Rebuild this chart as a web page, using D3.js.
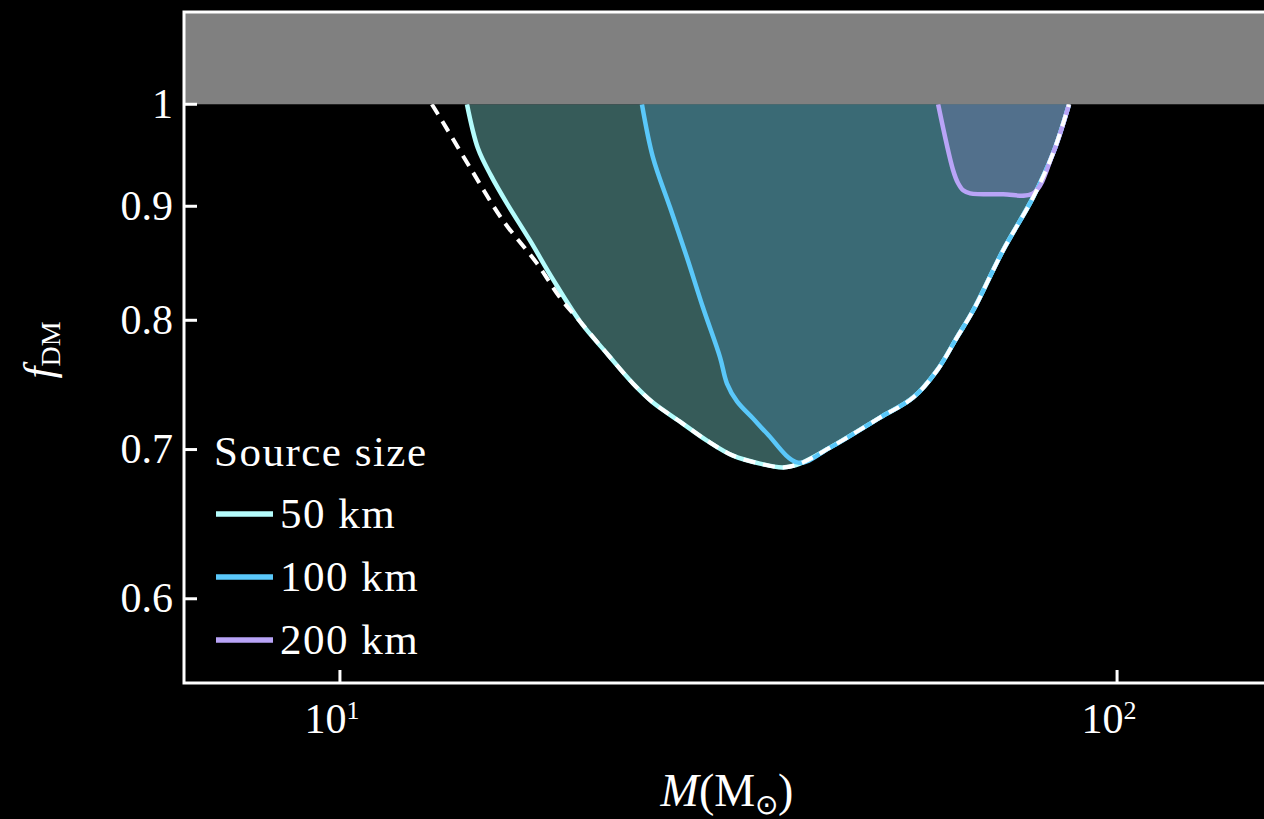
<!DOCTYPE html>
<html>
<head>
<meta charset="utf-8">
<script src="https://cdn.jsdelivr.net/npm/d3@7"></script>
<style>
  html, body { margin: 0; padding: 0; background: #000; overflow: hidden; }
  svg { display: block; }
  text { font-family: "Liberation Serif", "Times New Roman", serif; fill: #fff; }
</style>
</head>
<body>
<svg id="chart" width="1264" height="819"></svg>
<script>
// Exclusion boundaries f_DM(M) for each source size (M in solar masses)
const size50M  = [14.57, 15.05, 15.64, 16.40, 17.56, 18.80, 20.37, 22.06, 23.83, 25.28, 27.39, 29.67, 32.05, 34.71, 37.16, 39.08, 42.72, 49.54, 54.64, 58.67, 62.26, 65.28, 71.34, 77.97, 82.72, 86.73];
const size50F  = [1.0, 0.9555, 0.9292, 0.9027, 0.8688, 0.8345, 0.7990, 0.7730, 0.7494, 0.7348, 0.7205, 0.7065, 0.6956, 0.6899, 0.6872, 0.6899, 0.7014, 0.7235, 0.7386, 0.7597, 0.7862, 0.8081, 0.8599, 0.9083, 0.9506, 1.0];

const size100M = [24.47, 25.28, 26.59, 27.96, 29.32, 30.84, 31.48, 32.43, 34.01, 35.44, 38.86, 42.72, 49.54, 54.64, 58.67, 62.26, 65.28, 71.34, 77.97, 82.72, 86.73];
const size100F = [1.0, 0.9467, 0.8990, 0.8536, 0.8106, 0.7700, 0.7494, 0.7357, 0.7228, 0.7117, 0.6906, 0.7014, 0.7235, 0.7386, 0.7597, 0.7862, 0.8081, 0.8599, 0.9083, 0.9506, 1.0];

const size200M = [58.85, 61.52, 62.44, 63.38, 64.70, 71.34, 77.97, 82.72, 86.73];
const size200F = [1.0, 0.9341, 0.9216, 0.9149, 0.9121, 0.9112, 0.9121, 0.9506, 1.0];

// Point-source limit (dashed)
const pointM = [13.13, 13.45, 14.70, 16.21, 17.93, 19.19, 20.37, 22.06, 23.83, 25.28, 27.39, 29.67, 32.05, 34.71, 37.16, 39.08, 42.72, 49.54, 54.64, 58.67, 62.26, 65.28, 71.34, 77.97, 82.72, 86.73];
const pointF = [1.0, 0.9866, 0.9369, 0.8869, 0.8484, 0.8190, 0.7990, 0.7730, 0.7494, 0.7348, 0.7205, 0.7065, 0.6956, 0.6899, 0.6872, 0.6899, 0.7014, 0.7235, 0.7386, 0.7597, 0.7862, 0.8081, 0.8599, 0.9083, 0.9506, 1.0];

const seriesNames  = ["50 km", "100 km", "200 km"];
const seriesColors = ["#b4fcfc", "#5ac8fa", "#b9a4f7"];
const seriesFills  = ["#365b59", "#3a6a75", "#52708c"];

const yTicks = [0.6, 0.7, 0.8, 0.9, 1];
const xTicks = [10, 100];
const xTickExp = ["1", "2"];

const svg = d3.select("#chart");

const x = d3.scaleLog().domain([6.3, 200]).range([184, 1351]);
const y = d3.scaleLog().domain([0.55, 1.1]).range([683, 12]);

const series = [
  { M: size50M,  F: size50F },
  { M: size100M, F: size100F },
  { M: size200M, F: size200F }
].map((s, i) => ({
  name: seriesNames[i], color: seriesColors[i], fill: seriesFills[i],
  pts: s.M.map((m, j) => [m, s.F[j]])
}));

const line = d3.line()
  .x(d => x(d[0])).y(d => y(d[1]))
  .curve(d3.curveCatmullRom.alpha(0.5));

const plot = svg.append("g");
plot.append("clipPath").attr("id", "clip")
  .append("rect").attr("x", 184).attr("y", 12).attr("width", 1351 - 184).attr("height", 683 - 12);
const inner = plot.append("g").attr("clip-path", "url(#clip)");

// Excluded regions (between each boundary and f_DM = 1)
inner.selectAll("path.region").data(series).join("path")
  .attr("class", "region")
  .attr("d", d => line(d.pts) + "Z")
  .attr("fill", d => d.fill)
  .attr("stroke", "none");

// Boundary lines
inner.selectAll("path.edge").data(series).join("path")
  .attr("class", "edge")
  .attr("d", d => line(d.pts))
  .attr("fill", "none")
  .attr("stroke", d => d.color)
  .attr("stroke-width", 4.5)
  .attr("stroke-linejoin", "round");

// Point-source limit
inner.append("path")
  .attr("d", line(pointM.map((m, j) => [m, pointF[j]])))
  .attr("fill", "none")
  .attr("stroke", "#ffffff")
  .attr("stroke-width", 4)
  .attr("stroke-dasharray", "12,8");

// Unphysical region f_DM > 1
inner.append("rect")
  .attr("x", 184).attr("y", y(1.1))
  .attr("width", 1351 - 184).attr("height", y(1) - y(1.1))
  .attr("fill", "#808080");

// Frame
const axisColor = "#ffffff";
svg.append("path")
  .attr("d", `M1351,${y(1.1)}H184V${y(0.55)}H1351`)
  .attr("fill", "none").attr("stroke", axisColor).attr("stroke-width", 3);

// Y ticks and labels
const yg = svg.append("g");
yg.selectAll("line").data(yTicks).join("line")
  .attr("x1", 184).attr("x2", 197)
  .attr("y1", d => y(d)).attr("y2", d => y(d))
  .attr("stroke", axisColor).attr("stroke-width", 3);
yg.selectAll("text").data(yTicks).join("text")
  .attr("x", 173).attr("y", d => y(d) + 13.5)
  .attr("text-anchor", "end")
  .attr("font-size", 42)
  .text(d => d3.format("~g")(d));

// X ticks and labels
const xg = svg.append("g");
xg.selectAll("line").data(xTicks).join("line")
  .attr("x1", d => x(d)).attr("x2", d => x(d))
  .attr("y1", 683).attr("y2", 670)
  .attr("stroke", axisColor).attr("stroke-width", 3);
const xl = xg.selectAll("text").data(xTicks).join("text")
  .attr("x", d => x(d) - 8).attr("y", 733)
  .attr("text-anchor", "middle")
  .attr("font-size", 42);
xl.append("tspan").text("10");
xl.append("tspan").attr("dy", -14).attr("font-size", 26).text((d, i) => xTickExp[i]);

// Axis titles
const xt = svg.append("text")
  .attr("x", 727).attr("y", 806)
  .attr("text-anchor", "middle")
  .attr("font-size", 46);
xt.append("tspan").attr("font-style", "italic").text("M");
xt.append("tspan").text("(M");
xt.append("tspan").attr("font-size", 28).attr("dy", 8).text("⊙");
xt.append("tspan").attr("dy", -8).text(")");

const yt = svg.append("text")
  .attr("transform", "translate(53,350) rotate(-90)")
  .attr("text-anchor", "middle")
  .attr("font-size", 43);
yt.append("tspan").attr("font-style", "italic").text("f");
yt.append("tspan").attr("font-size", 28).attr("dy", 7).text("DM");

// Legend
const lg = svg.append("g");
lg.append("text").attr("x", 214).attr("y", 466)
  .attr("font-size", 43).attr("letter-spacing", 1.5).text("Source size");
const rows = lg.selectAll("g.row").data(series).join("g")
  .attr("class", "row")
  .attr("transform", (d, i) => `translate(0,${514 + i * 63})`);
rows.append("line")
  .attr("x1", 216).attr("x2", 273).attr("y1", 0).attr("y2", 0)
  .attr("stroke", d => d.color).attr("stroke-width", 5.5);
rows.append("text")
  .attr("x", 280).attr("y", 14)
  .attr("font-size", 43).attr("letter-spacing", 1.5)
  .text(d => d.name);
</script>
</body>
</html>
